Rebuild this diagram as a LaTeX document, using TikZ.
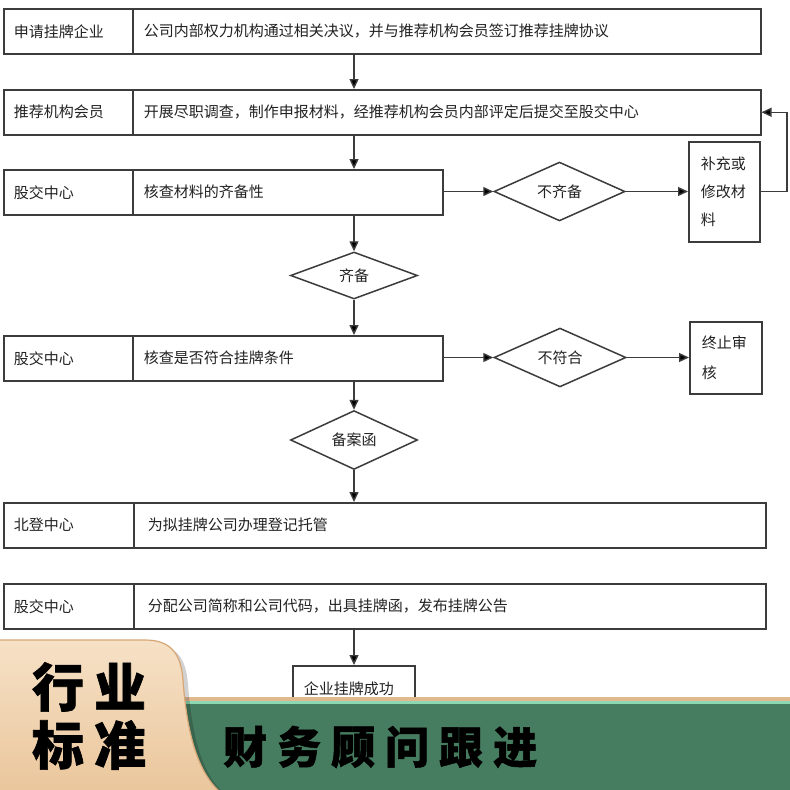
\documentclass[tikz,border=0pt]{standalone}
\usepackage{fontspec}
\newfontfamily\cjk{Noto Sans CJK SC}
\newfontfamily\cjkheavy[FakeBold=1.2]{Noto Sans CJK SC}
\usetikzlibrary{arrows.meta,shapes.geometric}
\definecolor{linec}{HTML}{3C3C3C}
\definecolor{textc}{HTML}{222222}
\definecolor{bandgreen}{HTML}{467C60}
\definecolor{mint}{HTML}{8CD8B2}
\definecolor{tanline}{HTML}{E2B88F}
\definecolor{tantop}{HTML}{F6E1C6}
\definecolor{tanbot}{HTML}{EAC69C}
\definecolor{tanborder}{HTML}{D6A676}
\begin{document}
\begin{tikzpicture}[x=1pt,y=-1pt,
  box/.style={draw=linec, line width=1.5pt, rectangle, anchor=north west,
    inner ysep=0pt, minimum height=45pt, align=left, text=textc,
    font=\cjk\fontsize{15}{18}\selectfont},
  lab/.style={box, inner xsep=10pt, text width=109pt},
  desc/.style={box, inner xsep=11pt},
  side/.style={box, inner xsep=12pt},
  dia/.style={draw=linec, line width=1.5pt, diamond, inner sep=0pt,
    text=textc, font=\cjk\fontsize{15}{18}\selectfont},
  arr/.style={draw=linec, line width=1.4pt, -{Triangle[length=10pt,width=9pt,fill=black]}}]
\useasboundingbox (0,0) rectangle (790,790);
\fill[white] (0,0) rectangle (790,790);
\coordinate (axis) at (354,0);
\coordinate (fb) at (787,0);
% rows
\node[lab] (l1) at (3,8) {申请挂牌企业};
\node[desc, text width=606pt] (d1) at (132,8) {公司内部权力机构通过相关决议，并与推荐机构会员签订推荐挂牌协议};
\node[lab] (l2) at (3,89) {推荐机构会员};
\node[desc, text width=606pt] (d2) at (132,89) {开展尽职调查，制作申报材料，经推荐机构会员内部评定后提交至股交中心};
\node[lab] (l3) at (3,169) {股交中心};
\node[desc, text width=288pt] (d3) at (132,169) {核查材料的齐备性};
\node[lab] (l4) at (3,335) {股交中心};
\node[desc, text width=288pt] (d4) at (132,335) {核查是否符合挂牌条件};
\node[lab, text width=110pt] (l5) at (3,502) {北登中心};
\node[desc, inner xsep=14pt, text width=604pt] (d5) at (133,502) {为拟挂牌公司办理登记托管};
\node[lab, text width=110pt] (l6) at (3,583) {股交中心};
\node[desc, inner xsep=14pt, text width=604pt] (d6) at (133,583) {分配公司简称和公司代码，出具挂牌函，发布挂牌公告};
% diamonds
\node[dia, minimum width=127pt, minimum height=47pt] (q1) at (354,275.5) {齐备};
\node[dia, minimum width=127pt, minimum height=46pt] (q2) at (354,440) {备案函};
\node[dia, minimum width=131pt, minimum height=48pt] (n1) at (559.5,191.5) {不齐备};
\node[dia, minimum width=132pt, minimum height=48pt] (n2) at (560,357.5) {不符合};
% side boxes
\node[side, text width=47pt, minimum height=100pt, font=\cjk\fontsize{15}{28}\selectfont] (s1) at (688,141) {补充或\\修改材\\料};
\node[side, text width=48pt, minimum height=72pt, font=\cjk\fontsize{15}{30}\selectfont] (s2) at (689,321) {终止审\\核};
% final box
\node[desc, text width=100pt, minimum height=46pt] (f) at (292,665) {企业挂牌成功};
% arrows
\draw[arr] (d1.south -| axis) -- (d2.north -| axis);
\draw[arr] (d2.south -| axis) -- (d3.north -| axis);
\draw[arr] (d3.south -| axis) -- (q1.north);
\draw[arr] (q1.south) -- (d4.north -| axis);
\draw[arr] (d4.south -| axis) -- (q2.north);
\draw[arr] (q2.south) -- (d5.north -| axis);
\draw[arr] (d6.south -| axis) -- (f.north -| axis);
\draw[arr] (n1.west -| d3.east) -- (n1.west);
\draw[arr] (n1.east) -- (n1.east -| s1.west);
\draw[arr] (n2.west -| d4.east) -- (n2.west);
\draw[arr] (n2.east) -- (n2.east -| s2.west);
\draw[arr] (s1.east |- n1.east) -- (fb |- n1.east) -- (fb |- d2.east) -- (d2.east);
% banner
\fill[tanline] (150,697) rectangle (790,700.5);
\fill[mint] (150,700.5) rectangle (790,704);
\fill[bandgreen] (150,704) rectangle (790,790);
\fill[black, opacity=0.18] (-2,644) -- (150,644) .. controls (177,644) and (186,659) .. (188,684) .. controls (192,739) and (203,776) .. (225,794) -- (-2,794) -- cycle;
\path[top color=tantop, bottom color=tanbot, draw=tanborder, line width=1.2pt]
  (-2,640) -- (145,640) .. controls (172,640) and (181,655) .. (183,680) .. controls (187,735) and (198,772) .. (220,792) -- (-2,792) -- cycle;
\node[font=\cjkheavy\bfseries\fontsize{52}{58}\selectfont, align=center, inner sep=0pt, text=black] (tabt) at (89,716) {行\hspace{10pt}业\\标\hspace{10pt}准};
\node[anchor=west, inner sep=0pt, font=\cjkheavy\bfseries\fontsize{44}{50}\selectfont, text=black] (bt) at (223,747) {财\hspace{10pt}务\hspace{10pt}顾\hspace{10pt}问\hspace{10pt}跟\hspace{10pt}进};
\end{tikzpicture}
\end{document}
